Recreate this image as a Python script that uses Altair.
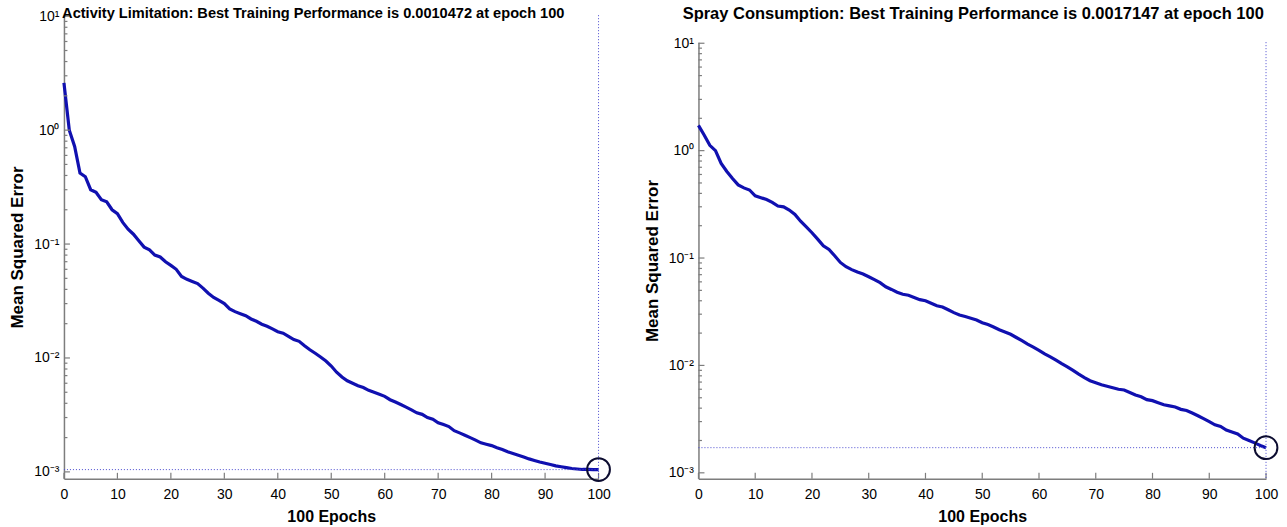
import altair as alt
import pandas as pd

EPOCHS = list(range(101))

ACTIVITY_MSE = [
    2.6, 1.0, 0.72, 0.42, 0.39, 0.30, 0.285, 0.245, 0.235, 0.20,
    0.185, 0.155, 0.135, 0.122, 0.107, 0.094, 0.089, 0.080, 0.077, 0.070,
    0.065, 0.060, 0.052, 0.049, 0.047, 0.045, 0.041, 0.037, 0.034, 0.032,
    0.030, 0.027, 0.0255, 0.0245, 0.0235, 0.022, 0.021, 0.0198, 0.019, 0.018,
    0.017, 0.0165, 0.0155, 0.0145, 0.014, 0.0128, 0.0118, 0.011, 0.0102, 0.0094,
    0.0085, 0.0075, 0.0068, 0.0063, 0.0060, 0.0057, 0.0055, 0.0052, 0.0050, 0.0048,
    0.0046, 0.0043, 0.0041, 0.0039, 0.0037, 0.0035, 0.0033, 0.0032, 0.0030, 0.0029,
    0.0027, 0.0026, 0.0025, 0.0023, 0.0022, 0.0021, 0.0020, 0.0019, 0.0018, 0.00175,
    0.0017, 0.00163, 0.00157, 0.00150, 0.00145, 0.00140, 0.00135, 0.00130, 0.00126, 0.00122,
    0.00119, 0.00116, 0.00113, 0.00111, 0.00109, 0.00107, 0.00106, 0.00105, 0.00105, 0.001048,
    0.0010472,
]

SPRAY_MSE = [
    1.72, 1.40, 1.12, 1.00, 0.76, 0.64, 0.55, 0.48, 0.45, 0.43,
    0.38, 0.365, 0.35, 0.33, 0.305, 0.30, 0.28, 0.255, 0.22, 0.195,
    0.172, 0.15, 0.13, 0.12, 0.105, 0.091, 0.083, 0.078, 0.074, 0.071,
    0.067, 0.063, 0.059, 0.054, 0.051, 0.048, 0.046, 0.045, 0.043, 0.041,
    0.040, 0.038, 0.036, 0.035, 0.033, 0.031, 0.0295, 0.0285, 0.0275, 0.0265,
    0.025, 0.024, 0.0228, 0.0215, 0.0205, 0.0195, 0.0182, 0.017, 0.0158, 0.0148,
    0.0138, 0.0128, 0.0120, 0.0112, 0.0104, 0.0097, 0.0090, 0.0083, 0.0077, 0.0072,
    0.0069, 0.0066, 0.0064, 0.0062, 0.0060, 0.0059, 0.0056, 0.0053, 0.0051, 0.0048,
    0.0047, 0.0045, 0.0043, 0.0042, 0.0041, 0.0039, 0.0038, 0.0036, 0.0034, 0.0032,
    0.0030, 0.0028, 0.0027, 0.0025, 0.0024, 0.0023, 0.0021, 0.0020, 0.0019, 0.0018,
    0.0017147,
]

ACTIVITY_BEST = 0.0010472
SPRAY_BEST = 0.0017147
BEST_EPOCH = 100

X_TICKS = list(range(0, 101, 10))
Y_MAJOR = [0.001, 0.01, 0.1, 1.0, 10.0]
Y_MINOR = [m * 10.0 ** k for k in range(-3, 1) for m in range(2, 10)]

TITLE_LEFT = "Activity Limitation: Best Training Performance is 0.0010472 at epoch 100"
TITLE_RIGHT = "Spray Consumption: Best Training Performance is 0.0017147 at epoch 100"
X_TITLE = "100 Epochs"
Y_TITLE = "Mean Squared Error"

FONT = "Liberation Sans"
AXIS_GRAY = "#7d7d7d"
LINE_BLUE = "#1010b0"
DOT_BLUE = "#4a4ad0"

LABEL_EXPR = ("datum.value >= 5 ? '10¹' : datum.value >= 0.5 ? '10⁰' : "
              "datum.value >= 0.05 ? '10⁻¹' : datum.value >= 0.005 ? '10⁻²' : '10⁻³'")


def panel(mse, best, title, W, H, log_lo, log_hi, tsize, toffset, tdx):
    x = alt.X("epoch:Q",
              scale=alt.Scale(domain=[0, 100], nice=False, zero=False),
              axis=alt.Axis(values=X_TICKS, title=X_TITLE, ticks=False, grid=False,
                            domainColor=AXIS_GRAY, domainWidth=1.5,
                            labelFont=FONT, labelFontSize=14, labelColor="#000",
                            labelPadding=9, labelFlush=False,
                            titleFont=FONT, titleFontSize=16, titleFontWeight="bold",
                            titleColor="#000", titlePadding=7))
    y = alt.Y("mse:Q",
              scale=alt.Scale(type="log", domain=[10 ** log_lo, 10 ** log_hi], nice=False),
              axis=alt.Axis(values=Y_MAJOR, labelExpr=LABEL_EXPR, title=Y_TITLE,
                            ticks=False, grid=False,
                            domainColor=AXIS_GRAY, domainWidth=1.5,
                            labelFont=FONT, labelFontSize=14, labelColor="#000",
                            labelPadding=5, labelFlush=False,
                            titleFont=FONT, titleFontSize=17, titleFontWeight="bold",
                            titleColor="#000", titlePadding=7))

    df = pd.DataFrame({"epoch": EPOCHS, "mse": mse})
    best_df = pd.DataFrame({"epoch": [BEST_EPOCH], "mse": [best]})
    hline_df = pd.DataFrame({"epoch": [X_TICKS[0]], "epoch2": [BEST_EPOCH], "mse": [best]})
    xt_df = pd.DataFrame({"epoch": X_TICKS, "mse": [best] * len(X_TICKS)})
    ymaj_df = pd.DataFrame({"epoch": [0] * len(Y_MAJOR), "mse": Y_MAJOR})
    ymin_df = pd.DataFrame({"epoch": [0] * len(Y_MINOR), "mse": Y_MINOR})

    xticks = alt.Chart(xt_df).mark_rule(color=AXIS_GRAY, strokeWidth=1.2).encode(
        x=x, y=alt.value(H), y2=alt.value(H - 6))
    ymaj = alt.Chart(ymaj_df).mark_rule(color=AXIS_GRAY, strokeWidth=1.2).encode(
        y=y, x=alt.value(0), x2=alt.value(6))
    ymin = alt.Chart(ymin_df).mark_rule(color=AXIS_GRAY, strokeWidth=1.2).encode(
        y=y, x=alt.value(0), x2=alt.value(3.5))
    hline = alt.Chart(hline_df).mark_rule(color=DOT_BLUE, strokeWidth=1, strokeDash=[1, 2]).encode(
        x=x, x2="epoch2:Q", y=y)
    vline = alt.Chart(best_df).mark_rule(color=DOT_BLUE, strokeWidth=1, strokeDash=[1, 2]).encode(
        x=x, y=alt.value(0), y2=alt.value(H))
    line = alt.Chart(df).mark_line(color=LINE_BLUE, strokeWidth=3.2).encode(x=x, y=y)
    circ = alt.Chart(best_df).mark_point(shape="circle", filled=False, size=520,
                                         color="#0c0c30", strokeWidth=2, opacity=1).encode(x=x, y=y)

    return alt.layer(line, xticks, ymaj, ymin, hline, vline, circ).properties(
        width=W, height=H,
        title=alt.TitleParams(title, font=FONT, fontSize=tsize, fontWeight="bold",
                              color="#000", offset=toffset, dx=tdx, anchor="middle"))


left = panel(ACTIVITY_MSE, ACTIVITY_BEST, TITLE_LEFT, 535, 464, -3.061, 1.009, 14.6, -11, -18)
right = panel(SPRAY_MSE, SPRAY_BEST, TITLE_RIGHT, 568, 437, -3.056, 1.01, 16.5, 14, -9)

spacer = alt.Chart(pd.DataFrame({"epoch": [0], "mse": [1]})).mark_point(opacity=0).encode(
    x=alt.X("epoch:Q", axis=None), y=alt.Y("mse:Q", axis=None)).properties(width=568, height=27)

right_col = alt.vconcat(spacer, right, spacing=0, bounds="flush")

chart = alt.hconcat(left, right_col, spacing=100, bounds="flush").properties(
    padding={"left": 8, "top": 5, "right": 5, "bottom": 5},
).configure(background="white").configure_view(stroke=None)

chart.save("out.html", embed_options={"renderer": "svg", "actions": False})
